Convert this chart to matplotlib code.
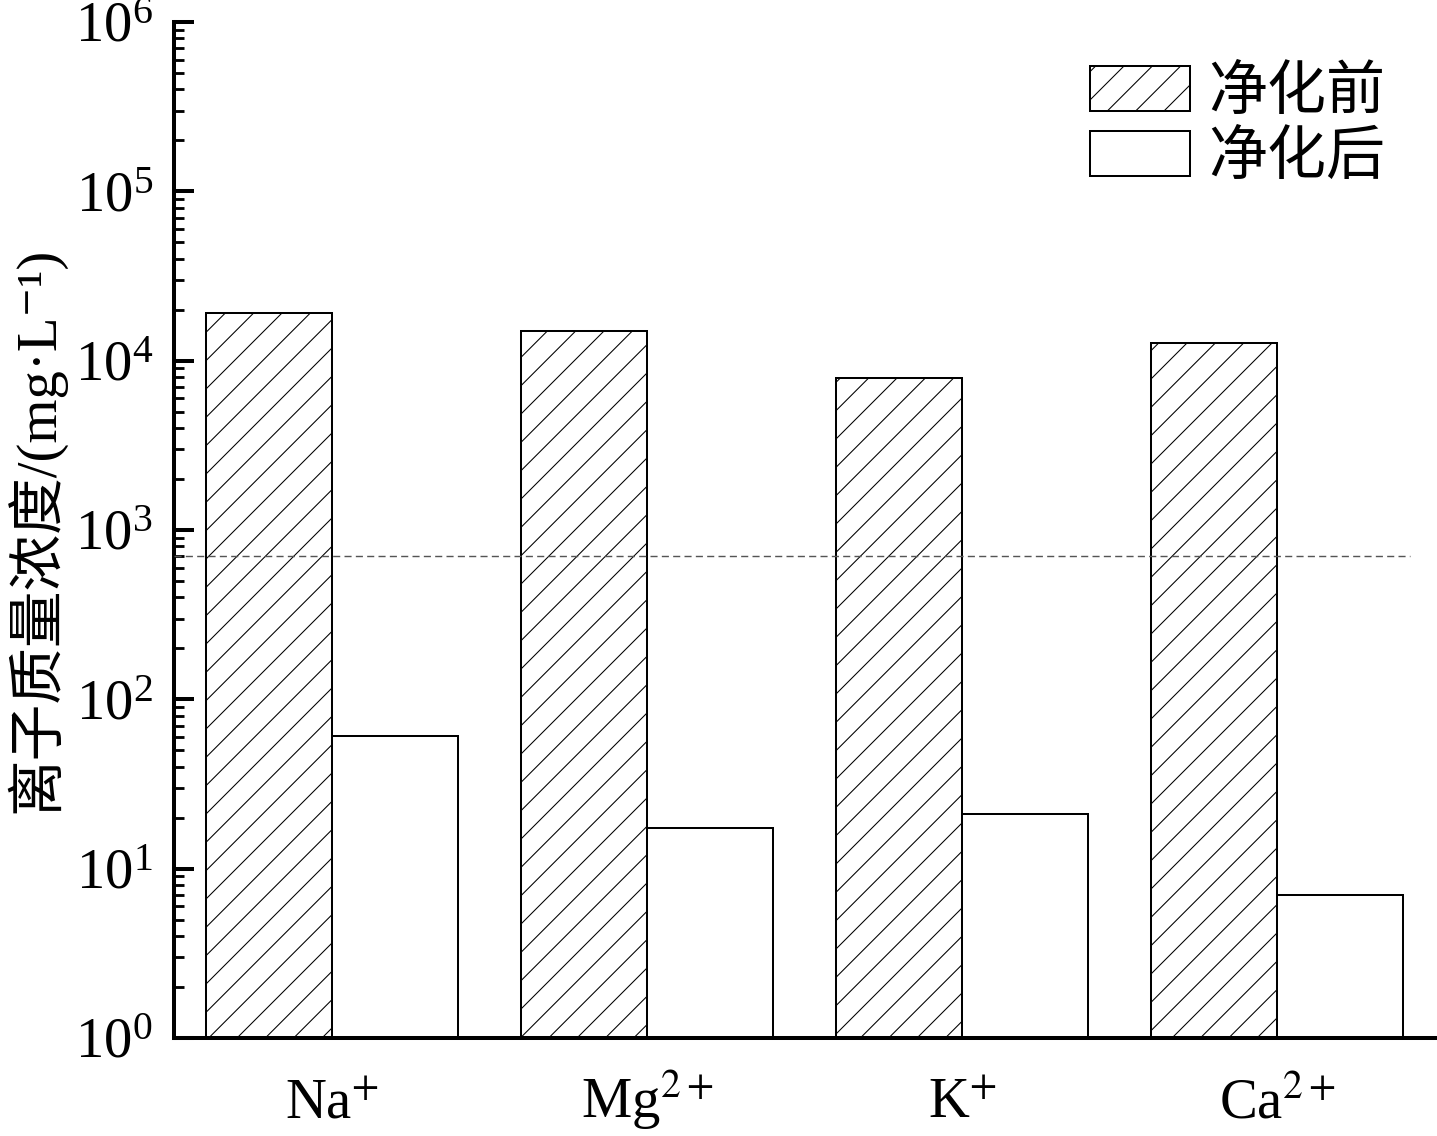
import numpy as np
import matplotlib
matplotlib.use('Agg')
import matplotlib.pyplot as plt

# data
ions = ['Na$^{+}$', 'Mg$^{2+}$', 'K$^{+}$', 'Ca$^{2+}$']
before = [1.9e4, 1.5e4, 7.9e3, 1.27e4]   # 净化前
after = [60, 16.3, 20, 6]                # 净化后
limit_value = 700                        # dashed reference line

plt.rcParams['font.family'] = ['Liberation Serif', 'Noto Sans CJK SC', 'DejaVu Serif']
plt.rcParams['mathtext.fontset'] = 'stix'
plt.rcParams['hatch.linewidth'] = 0.45

DPI = 170
fig = plt.figure(figsize=(1437 / DPI, 1136 / DPI), dpi=DPI)
ax = fig.add_axes([174 / 1437, 1 - 1038 / 1136, 1261 / 1437, 1016 / 1136])

x = np.arange(len(ions))
w = 0.4
ax.bar(x - w / 2, before, w, bottom=1, color='white', edgecolor='black',
       linewidth=0.85, hatch='//', label='净化前', zorder=2)
ax.bar(x + w / 2, after, w, bottom=1, color='white', edgecolor='black',
       linewidth=0.85, label='净化后', zorder=2)
ax.axhline(limit_value, xmin=0, xmax=0.98, color='#555555', linewidth=0.6,
           dashes=(5, 3), zorder=3)

ax.set_yscale('log')
ax.set_ylim(1, 1e6)
ax.set_xlim(-0.5, 3.5)
ax.set_xticks(x)
ax.set_xticklabels(ions, va='baseline')

for s in ['top', 'right']:
    ax.spines[s].set_visible(False)
for s in ['left', 'bottom']:
    ax.spines[s].set_linewidth(1.7)

ax.tick_params(axis='y', which='major', direction='in', length=8.5, width=1.7,
               labelsize=24, pad=9)
ax.tick_params(axis='y', which='minor', direction='in', length=4.2, width=1.2)
ax.tick_params(axis='x', length=0, labelsize=24, pad=34)

ax.set_ylabel('离子质量浓度/(mg·L⁻¹)', fontsize=24)
ax.yaxis.set_label_coords(-0.086, 0.5)

ax.legend(loc='upper left', bbox_to_anchor=(1090 / 1437, 1 - 66 / 1136),
          bbox_transform=fig.transFigure, frameon=False, fontsize=25,
          handlelength=1.7, handleheight=0.8, labelspacing=0.15,
          handletextpad=0.3, borderpad=0, borderaxespad=0)

fig.savefig('out.png', dpi=DPI)
